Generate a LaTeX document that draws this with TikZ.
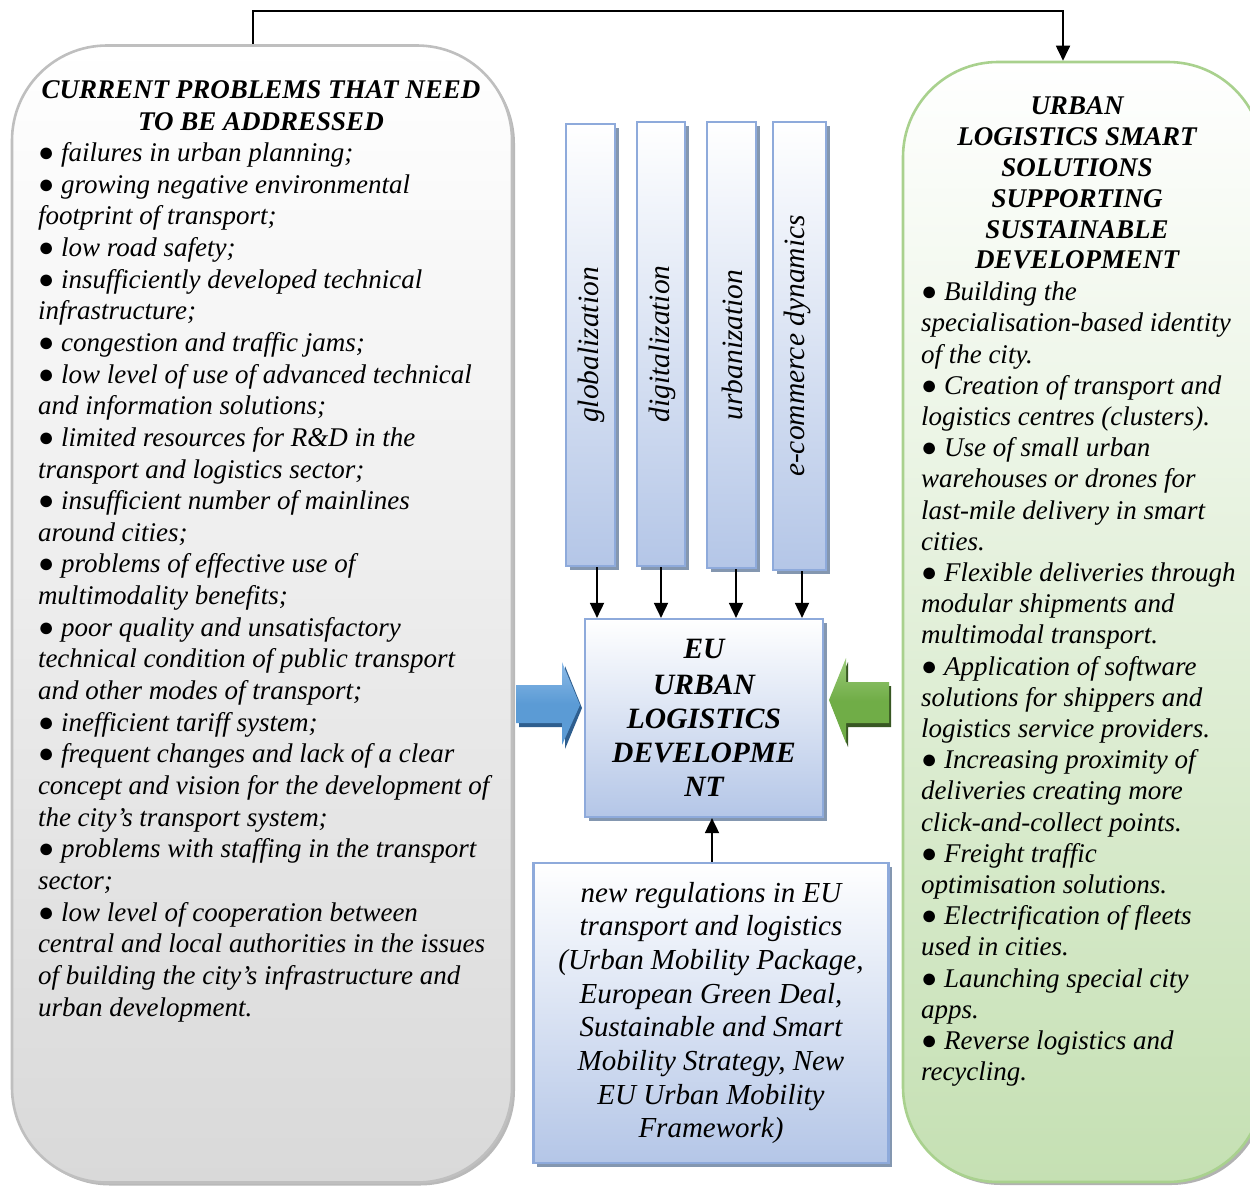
\documentclass[tikz,border=0pt]{standalone}
\usepackage{fontspec}
\setmainfont{Liberation Serif}
\usetikzlibrary{shadows,arrows.meta}

\definecolor{edgeblue}{HTML}{8EAADB}
\definecolor{fillblue}{HTML}{B4C6E7}
\definecolor{shadeblue}{HTML}{8497B0}
\definecolor{edgegray}{HTML}{BFBFBF}
\definecolor{fillgray}{HTML}{D9D9D9}
\definecolor{edgegreen}{HTML}{A9D18E}
\definecolor{fillgreen}{HTML}{C5E0B3}
\definecolor{arrowblue}{HTML}{5B9BD5}
\definecolor{arrowbluelight}{HTML}{8DBBE8}
\definecolor{arrowbluedark}{HTML}{2E5E8E}
\definecolor{arrowgreen}{HTML}{70AD47}
\definecolor{arrowgreenlight}{HTML}{9BCB7A}
\definecolor{arrowgreendark}{HTML}{385723}

\newcommand\bodytext{\fontsize{27}{31.65}\selectfont\itshape}
\newcommand\bigtext{\fontsize{29}{33.7}\selectfont\itshape}
\newcommand\columntext{\fontsize{29.5}{34}\selectfont\itshape}
\newcommand\dotmark{{\upshape ●}}

\begin{document}
\begin{tikzpicture}[x=1pt,y=-1pt,
  bluebox/.style={draw=edgeblue, line width=2.2pt, top color=white, bottom color=fillblue,
    drop shadow={shadow xshift=3.5pt, shadow yshift=-3.5pt, fill=shadeblue, opacity=1}},
  bigpanel/.style={line width=2.6pt, rounded corners=95pt},
  txt/.style={inner sep=0pt, outer sep=0pt},
  link/.style={line width=1.8pt, -{Triangle[width=14pt,length=15pt]}}
]
\useasboundingbox (0,0) rectangle (1250,1187);
\clip (0,0) rectangle (1250,1187);

% side panels
\node[bigpanel, draw=edgegray, top color=white, bottom color=fillgray,
      drop shadow={shadow xshift=3pt, shadow yshift=-3pt, fill=gray!55, opacity=1},
      minimum width=500pt, minimum height=1137pt] (problems) at (262,614) {};
\node[bigpanel, draw=edgegreen, top color=white, bottom color=fillgreen,
      drop shadow={shadow xshift=3pt, shadow yshift=-3pt, fill=gray!60, opacity=1},
      minimum width=360pt, minimum height=1120pt] (solutions) at (1083,622) {};

% driver columns
\node[bluebox, minimum width=49pt, minimum height=442pt] (glob) at (590.5,345) {};
\node[bluebox, minimum width=48pt, minimum height=444pt] (digi) at (661,344) {};
\node[bluebox, minimum width=49pt, minimum height=446pt] (urb)  at (731.5,345) {};
\node[bluebox, minimum width=53pt, minimum height=448pt] (ecom) at (799.5,346) {};

\node[txt, rotate=90, font=\columntext] at ([xshift=1pt]glob.center) {globalization};
\node[txt, rotate=90, font=\columntext] at ([xshift=1pt]digi.center) {digitalization};
\node[txt, rotate=90, font=\columntext] at ([xshift=1pt]urb.center)  {urbanization};
\node[txt, rotate=90, font=\columntext] at ([xshift=-2pt]ecom.center) {e-commerce dynamics};

% central block
\node[bluebox, minimum width=238pt, minimum height=198pt, align=center,
      font=\fontsize{29.5}{34}\selectfont\bfseries\itshape] (core) at (704,718)
  {\raisebox{2pt}{EU}\\URBAN\\LOGISTICS\\DEVELOPME\\NT};

% regulations block
\node[bluebox, minimum width=355pt, minimum height=300pt, align=center, font=\bigtext] (rules) at (711,1013)
  {new regulations in EU\\transport and logistics\\(Urban Mobility Package,\\European Green Deal,\\Sustainable and Smart\\Mobility Strategy, New\\EU Urban Mobility\\Framework)};

% panel texts
\node[txt, align=center, font=\bodytext\bfseries, anchor=north] (probtitle) at (261,80.5)
  {CURRENT PROBLEMS THAT NEED\\TO BE ADDRESSED};
\node[txt, align=left, font=\bodytext, anchor=north west] (problist) at (38,142.5)
  {\dotmark{} failures in urban planning;\\
   \dotmark{} growing negative environmental\\
   footprint of transport;\\
   \dotmark{} low road safety;\\
   \dotmark{} insufficiently developed technical\\
   infrastructure;\\
   \dotmark{} congestion and traffic jams;\\
   \dotmark{} low level of use of advanced technical\\
   and information solutions;\\
   \dotmark{} limited resources for R\&D in the\\
   transport and logistics sector;\\
   \dotmark{} insufficient number of mainlines\\
   around cities;\\
   \dotmark{} problems of effective use of\\
   multimodality benefits;\\
   \dotmark{} poor quality and unsatisfactory\\
   technical condition of public transport\\
   and other modes of transport;\\
   \dotmark{} inefficient tariff system;\\
   \dotmark{} frequent changes and lack of a clear\\
   concept and vision for the development of\\
   the city’s transport system;\\
   \dotmark{} problems with staffing in the transport\\
   sector;\\
   \dotmark{} low level of cooperation between\\
   central and local authorities in the issues\\
   of building the city’s infrastructure and\\
   urban development.};

\node[txt, align=center, font=\fontsize{27}{30.8}\selectfont\bfseries\itshape, anchor=north] (soltitle) at (1077,97)
  {URBAN\\LOGISTICS SMART\\SOLUTIONS\\SUPPORTING\\SUSTAINABLE\\DEVELOPMENT};
\node[txt, align=left, font=\fontsize{27}{31.2}\selectfont\itshape, anchor=north west] (sollist) at (921,282)
  {\dotmark{} Building the\\
   specialisation-based identity\\
   of the city.\\
   \dotmark{} Creation of transport and\\
   logistics centres (clusters).\\
   \dotmark{} Use of small urban\\
   warehouses or drones for\\
   last-mile delivery in smart\\
   cities.\\
   \dotmark{} Flexible deliveries through\\
   modular shipments and\\
   multimodal transport.\\
   \dotmark{} Application of software\\
   solutions for shippers and\\
   logistics service providers.\\
   \dotmark{} Increasing proximity of\\
   deliveries creating more\\
   click-and-collect points.\\
   \dotmark{} Freight traffic\\
   optimisation solutions.\\
   \dotmark{} Electrification of fleets\\
   used in cities.\\
   \dotmark{} Launching special city\\
   apps.\\
   \dotmark{} Reverse logistics and\\
   recycling.};

% block arrows pointing at the central block
\fill[arrowbluedark] (519,689) -- (565,689) -- (565,666) -- (582,708) -- (565,749) -- (565,727) -- (519,727) -- cycle;
\shade[top color=arrowbluelight, bottom color=arrowblue, middle color=arrowblue]
  (516,685) -- (562,685) -- (562,662) -- (580,705) -- (562,745) -- (562,723) -- (516,723) -- cycle;
\fill[arrowgreendark] (891,686) -- (848,686) -- (848,662) -- (831,704) -- (848,747) -- (848,727) -- (891,727) -- cycle;
\shade[top color=arrowgreenlight, bottom color=arrowgreen, middle color=arrowgreen]
  (889,682) -- (846,682) -- (846,658) -- (829,700) -- (846,743) -- (846,723) -- (889,723) -- cycle;

% connectors
\draw[link] ([xshift=6.5pt]glob.south) -- ([xshift=6.5pt]glob.south |- core.north);
\draw[link] (digi.south) -- (digi.south |- core.north);
\draw[link] ([xshift=4.5pt]urb.south) -- ([xshift=4.5pt]urb.south |- core.north);
\draw[link] ([xshift=2.5pt]ecom.south) -- ([xshift=2.5pt]ecom.south |- core.north);
\draw[link] ([xshift=1pt]rules.north) -- ([xshift=1pt]rules.north |- core.south);
\draw[link] ([xshift=-9pt]problems.north) -- ++(0,-33) -| ([xshift=-20pt]solutions.north);

\end{tikzpicture}
\end{document}
